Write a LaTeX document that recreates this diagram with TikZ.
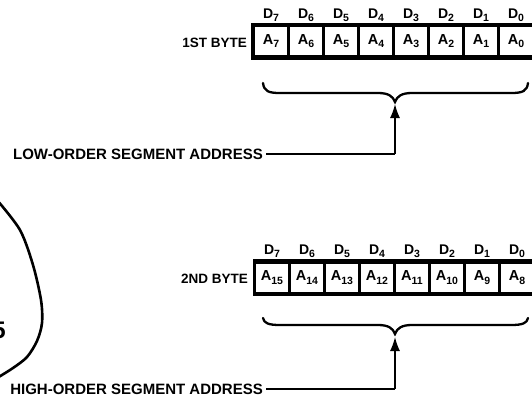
\documentclass[tikz,border=0pt]{standalone}
\usepackage{fontspec}
\setmainfont{Liberation Sans}
\usetikzlibrary{arrows.meta}
\newcommand\lowidx[1]{\raisebox{-0.45ex}{\fontsize{10.5}{10.5}\selectfont #1}}
\tikzset{
  cell/.style={fill=white, minimum width=32pt, minimum height=28pt, inner sep=0pt,
    font=\fontsize{14.5}{15}\selectfont\bfseries},
  bitlbl/.style={font=\fontsize{14}{15}\selectfont\bfseries, inner sep=0pt},
  bytelbl/.style={font=\fontsize{13.5}{14}\selectfont\bfseries, inner sep=0pt, anchor=east},
  seglbl/.style={font=\fontsize{15}{16}\selectfont\bfseries, inner ysep=0pt, inner xsep=3pt, anchor=east},
  bracepath/.style={line width=2.3pt, line cap=round},
  leader/.style={line width=1.4pt},
  pointer/.style={line width=1.5pt, -{Latex[length=14pt,width=10pt]}},
  frame/.style={fill=black}
}
\begin{document}
\begin{tikzpicture}[x=1pt,y=-1pt]
\useasboundingbox (0,0) rectangle (532,399);
\clip (0,0) rectangle (532,399);
% ---------- first byte ----------
\fill[frame] (251,22.5) rectangle (540,59.5);
\foreach \i in {0,...,7}{
  \pgfmathtruncatemacro\b{7-\i}
  \node[cell] (t\b) at (271+35*\i,41) {A\lowidx{\b}};
  \node[bitlbl] (td\b) at (271+35*\i,15) {D\lowidx{\b}};
}
\node[bytelbl] (byte1) at (247,43) {1ST BYTE};
\draw[bracepath] (263,83) .. controls (264,91) and (268,93) .. (280,93) -- (378,93)
  .. controls (388,93) and (393,96) .. (395,102)
  .. controls (397,96) and (402,93) .. (412,93) -- (511,93)
  .. controls (523,93) and (527,91) .. (528,83);
\coordinate (tip1) at (395,104);
\coordinate (bend1) at (395,154);
\node[seglbl] (low) at (266,154) {LOW-ORDER SEGMENT ADDRESS};
\draw[leader] (low.east) -- (bend1);
\draw[pointer] (bend1) -- (tip1);
% ---------- second byte ----------
\fill[frame] (253,258.5) rectangle (540,296);
\foreach \i in {0,...,7}{
  \pgfmathtruncatemacro\c{15-\i}
  \pgfmathtruncatemacro\d{7-\i}
  \node[cell] (b\c) at (272+35*\i,277.5) {A\lowidx{\c}};
  \node[bitlbl] (bd\d) at (272+35*\i,251) {D\lowidx{\d}};
}
\node[bytelbl] (byte2) at (248,279) {2ND BYTE};
\draw[bracepath] (263,318) .. controls (264,323) and (268,325) .. (280,325) -- (378,325)
  .. controls (388,325) and (393,328) .. (395,334)
  .. controls (397,328) and (402,325) .. (412,325) -- (511,325)
  .. controls (523,325) and (527,323) .. (528,318);
\coordinate (tip2) at (395,337);
\coordinate (bend2) at (395,389);
\node[seglbl] (high) at (266,389) {HIGH-ORDER SEGMENT ADDRESS};
\draw[leader] (high.east) -- (bend2);
\draw[pointer] (bend2) -- (tip2);
% ---------- partial figure at left edge ----------
\draw[line width=2.6pt] plot[smooth] coordinates {(-3,200) (20,230) (33,265) (41,300) (42,323) (37,341) (27,357) (13,368) (-3,378)};
\node[font=\fontsize{24}{24}\selectfont\bfseries, anchor=east, inner sep=0pt] (five) at (6,330) {5};
\end{tikzpicture}
\end{document}
